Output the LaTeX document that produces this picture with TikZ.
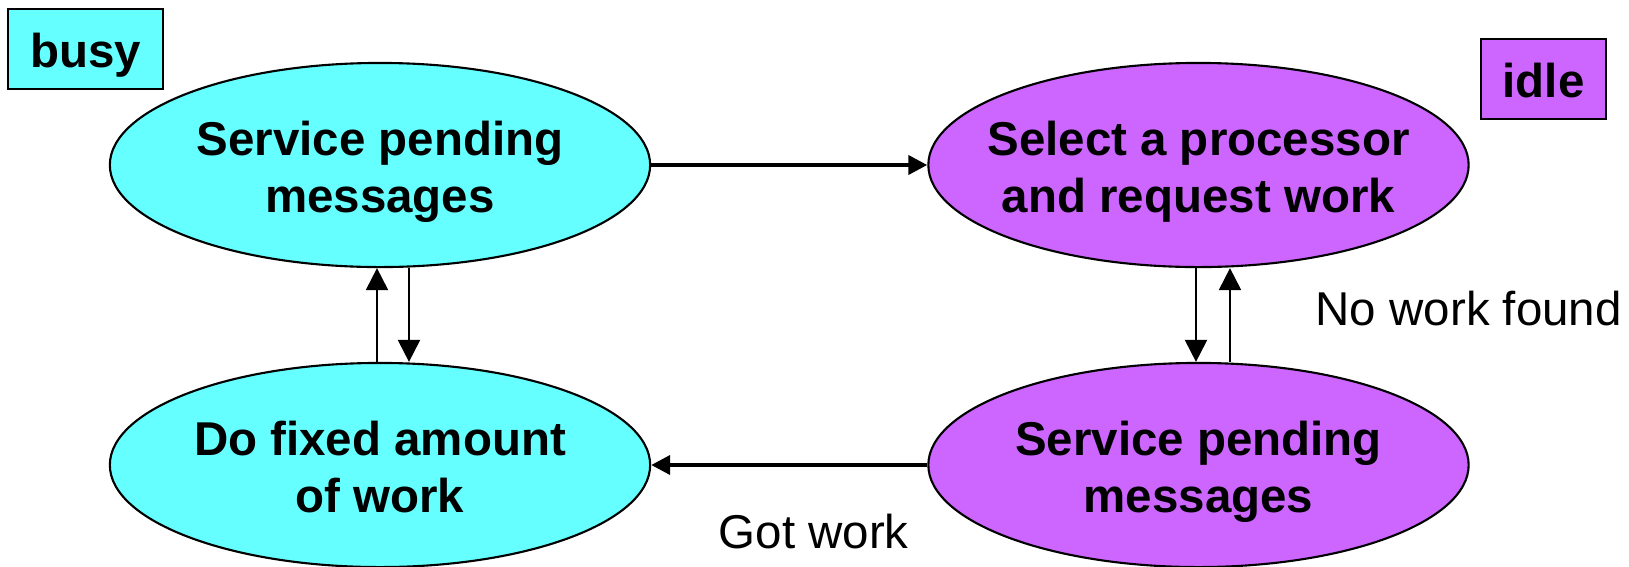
\documentclass[tikz,border=0pt]{standalone}
\usepackage{fontspec}
\setmainfont{Liberation Sans}
\usetikzlibrary{arrows.meta,shapes.geometric,calc}
\definecolor{busycyan}{HTML}{66FFFF}
\definecolor{idlepurple}{HTML}{CC66FF}
\newcommand{\twolines}[2]{\strut#1\\\strut#2}

\begin{document}
\begin{tikzpicture}[
    x=0.01cm, y=-0.01cm,
    state/.style={draw, ellipse, line width=0.6pt, minimum width=5.4cm, minimum height=2.04cm, inner sep=0pt},
    statetext/.style={font=\fontsize{13.5}{16.07}\selectfont\bfseries, align=center, inner sep=0pt, yshift=-0.075cm},
    tag/.style={draw, line width=0.7pt, inner sep=0pt, minimum height=0.8cm, font=\fontsize{13.5}{16}\selectfont\bfseries, text height=0.45cm, text depth=0.08cm},
    note/.style={anchor=base west, inner sep=0pt, font=\fontsize{13.5}{16}\selectfont},
    flow/.style={-{Triangle[length=0.19cm, width=0.19cm]}, line width=1.15pt},
    back/.style={-{Triangle[length=0.22cm, width=0.22cm]}, line width=0.6pt}
]
  \useasboundingbox (0,0) rectangle (1629,566);

  \node[tag, fill=busycyan, minimum width=1.55cm] (busy) at (85.5,49) {busy};
  \node[tag, fill=idlepurple, minimum width=1.25cm] (idle) at (1543.5,79) {idle};

  \node[state, fill=busycyan, label={[statetext]center:\twolines{Service pending}{messages}}] (svcbusy) at (380,165) {};
  \node[state, fill=idlepurple, label={[statetext]center:\twolines{Select a processor}{and request work}}] (select) at (1198.5,165) {};
  \node[state, fill=busycyan, label={[statetext]center:\twolines{Do fixed amount}{of work}}] (work) at (380,465) {};
  \node[state, fill=idlepurple, label={[statetext]center:\twolines{Service pending}{messages}}] (svcidle) at (1198.5,465) {};

  \node[note] (nowork) at (1315,325) {No work found};
  \node[note] (gotwork) at (718,548) {Got work};

  \draw[flow] (svcbusy.east) -- (select.west);
  \draw[flow] (svcidle.west) -- (work.east);
  \draw[back] ($(work.north)+(-3,0)$) -- ($(svcbusy.south)+(-3,0)$);
  \draw[back] ($(svcbusy.south)+(29,0)$) -- ($(work.north)+(29,0)$);
  \draw[back] ($(select.south)+(-2.5,0)$) -- ($(svcidle.north)+(-2.5,0)$);
  \draw[back] ($(svcidle.north)+(31.5,0)$) -- ($(select.south)+(31.5,0)$);
\end{tikzpicture}
\end{document}
